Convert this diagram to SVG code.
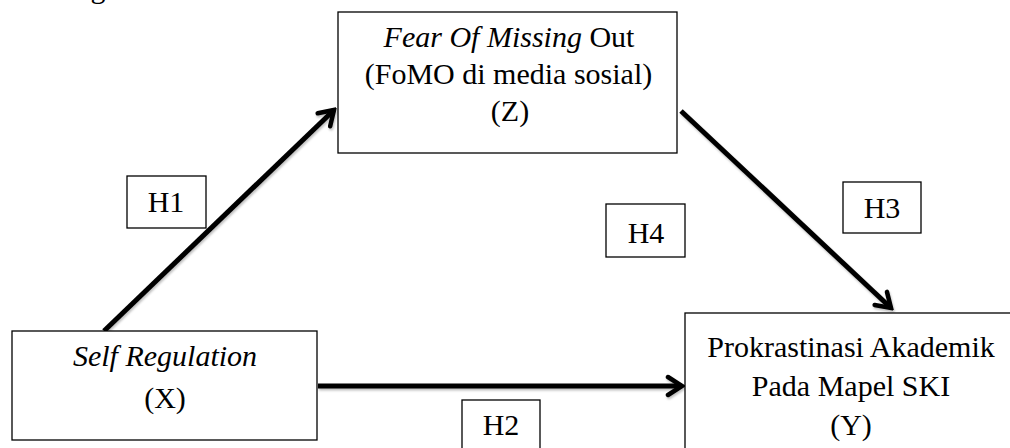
<svg xmlns="http://www.w3.org/2000/svg" width="1010" height="448" viewBox="0 0 1010 448">
  <style>
    .box { fill: #fff; stroke: #000; stroke-width: 1.3; }
    .t { font-family: 'Liberation Serif', 'Times New Roman', Times, 'DejaVu Serif', serif; font-size: 30px; fill: #000; text-anchor: middle; }
    .i { font-style: italic; }
    .conn { stroke: #000; stroke-width: 5; fill: none; stroke-linecap: butt; }
  </style>
  <defs>
    <marker id="arrow" markerUnits="userSpaceOnUse" markerWidth="20" markerHeight="24" viewBox="0 0 20 24" refX="17" refY="12" orient="auto">
      <path d="M3,3 L17,12 L3,21" fill="none" stroke="#000" stroke-width="4.5" stroke-linecap="round" stroke-linejoin="miter"/>
    </marker>
    <filter id="sh" x="-10%" y="-10%" width="120%" height="120%">
      <feDropShadow dx="1" dy="2" stdDeviation="1" flood-color="#000" flood-opacity="0.25"/>
    </filter>
  </defs>
  <rect width="1010" height="448" fill="#fff"/>
  <g font-family="Liberation Serif, Times New Roman, serif">
  <text class="t" x="98" y="-2">g</text>

  <g id="connectors" filter="url(#sh)">
    <line class="conn" x1="104" y1="331" x2="334" y2="110" marker-end="url(#arrow)"/>
    <line class="conn" x1="681" y1="111" x2="891" y2="308" marker-end="url(#arrow)"/>
    <line class="conn" x1="318" y1="386" x2="682" y2="386" marker-end="url(#arrow)"/>
  </g>

  <g id="node-z">
    <rect class="box" x="338" y="12" width="339" height="141"/>
    <text class="t" x="509" y="47"><tspan class="i">Fear Of Missing</tspan> Out</text>
    <text class="t" x="508.5" y="84">(FoMO di media sosial)</text>
    <text class="t" x="510" y="121">(Z)</text>
  </g>

  <g id="node-x">
    <rect class="box" x="12" y="331" width="305" height="109"/>
    <text class="t i" x="165" y="366">Self Regulation</text>
    <text class="t" x="165" y="408">(X)</text>
  </g>

  <g id="node-y">
    <rect class="box" x="685" y="313" width="340" height="150"/>
    <text class="t" x="851" y="357">Prokrastinasi Akademik</text>
    <text class="t" x="851" y="396">Pada Mapel SKI</text>
    <text class="t" x="851" y="435">(Y)</text>
  </g>

  <g id="h1">
    <rect class="box" x="127" y="176" width="79" height="52"/>
    <text class="t" x="166" y="212">H1</text>
  </g>
  <g id="h2">
    <rect class="box" x="462" y="400" width="78" height="60"/>
    <text class="t" x="501" y="435">H2</text>
  </g>
  <g id="h3">
    <rect class="box" x="843" y="182" width="78" height="51"/>
    <text class="t" x="882" y="218">H3</text>
  </g>
  <g id="h4">
    <rect class="box" x="606" y="204" width="79" height="53"/>
    <text class="t" x="646" y="243">H4</text>
  </g>
  </g>
</svg>
